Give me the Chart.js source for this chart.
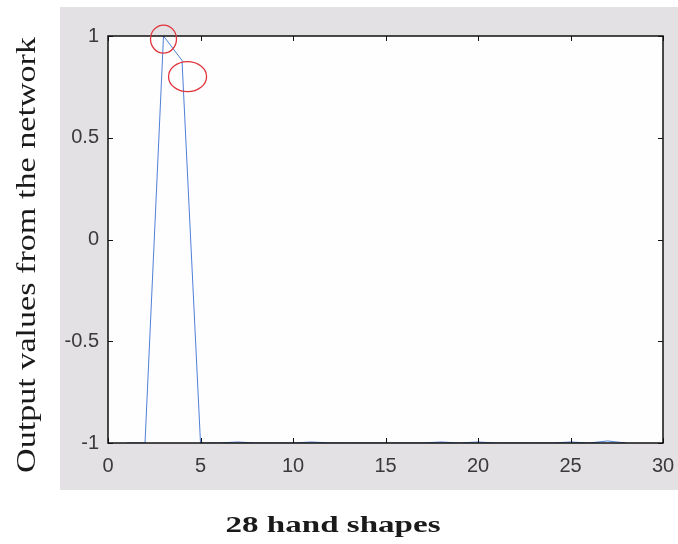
<!DOCTYPE html>
<html>
<head>
<meta charset="utf-8">
<script src="https://cdn.jsdelivr.net/npm/chart.js@4.4.1/dist/chart.umd.min.js"></script>
<style>
  html, body { margin: 0; padding: 0; background: #fff; }
  #wrap { width: 678px; height: 544px; }
</style>
</head>
<body>
<div id="wrap"><canvas id="myChart" width="678" height="544"></canvas></div>
<script>
const shapes = [1,2,3,4,5,6,7,8,9,10,11,12,13,14,15,16,17,18,19,20,21,22,23,24,25,26,27,28]
const outputs = [-1,-1,1,0.88,-1,-1,-0.995,-1,-1,-1,-0.995,-1,-1,-1,-1,-1,-1,-0.995,-1,-0.995,-1,-1,-1,-1,-0.995,-1,-0.99,-1]
const xTicks = [0,5,10,15,20,25,30]
const yTicks = [-1,-0.5,0,0.5,1]
const xTitle = '28 hand shapes'
const yTitle = 'Output values from the network'
// red rings drawn on the scan, in data units
const markX = [3, 4.3]
const markY = [0.985, 0.8]

const ctx = document.getElementById('myChart');

// scanned labels are stretched along the text, so fit them to a width
function stretchedText(c, text, font, cx, cy, width, angle) {
	c.save();
	c.font = font;
	c.textAlign = 'center';
	c.textBaseline = 'middle';
	c.fillStyle = '#1a1a1a';
	c.translate(cx, cy);
	c.rotate(angle);
	c.scale(width / c.measureText(text).width, 1);
	c.fillText(text, 0, 0);
	c.restore();
}

const frame = {
	id: 'frame',
	beforeDraw(chart) {
		const c = chart.ctx, a = chart.chartArea;
		c.save();
		c.fillStyle = '#fff';
		c.fillRect(0, 0, chart.width, chart.height);
		c.fillStyle = '#e3e1e3';
		c.fillRect(60, 7, 618, 483);
		c.fillStyle = '#fefefe';
		c.fillRect(a.left, a.top, a.right - a.left, a.bottom - a.top);
		c.restore();
	},
	afterDraw(chart) {
		const c = chart.ctx, a = chart.chartArea;
		const xs = chart.scales.x, ys = chart.scales.y;
		c.save();
		c.strokeStyle = '#111';
		c.lineWidth = 1;
		c.beginPath();
		xTicks.forEach(v => {
			const px = Math.round(xs.getPixelForValue(v)) + 0.5;
			c.moveTo(px, a.bottom); c.lineTo(px, a.bottom - 5);
			c.moveTo(px, a.top); c.lineTo(px, a.top + 5);
		});
		yTicks.forEach(v => {
			const py = Math.round(ys.getPixelForValue(v)) + 0.5;
			c.moveTo(a.left, py); c.lineTo(a.left + 5, py);
			c.moveTo(a.right, py); c.lineTo(a.right - 5, py);
		});
		c.stroke();
		c.lineWidth = 1.5;
		c.strokeRect(a.left, a.top, a.right - a.left, a.bottom - a.top);
		// red rings
		c.strokeStyle = '#e0333a';
		c.lineWidth = 1.3;
		const rx = [13, 19], ry = [14, 15];
		markX.forEach((v, i) => {
			c.beginPath();
			c.ellipse(xs.getPixelForValue(v), ys.getPixelForValue(markY[i]), rx[i], ry[i], 0, 0, Math.PI * 2);
			c.stroke();
		});
		c.restore();
		stretchedText(c, yTitle, '27px "Liberation Serif"', 28, 255, 436, -Math.PI / 2);
		stretchedText(c, xTitle, 'bold 23px "Liberation Serif"', 333, 526, 215, 0);
	}
};

const data = {
	datasets: [
		{
			data: shapes.map((s, i) => ({x: s, y: outputs[i]})),
			borderColor: '#4f7fd8',
			borderWidth: 1,
			pointRadius: 0,
			tension: 0,
			fill: false
		}
	]
};

const tickFont = {family: 'Liberation Sans', size: 20};

const options = {
	responsive: false,
	animation: false,
	layout: {
		padding: {left: 0, right: 15, top: 36, bottom: 0}
	},
	plugins: {
		legend: {display: false},
		tooltip: {enabled: false}
	},
	scales: {
		x: {
			type: 'linear',
			min: 0,
			max: 30,
			afterBuildTicks: s => { s.ticks = xTicks.map(v => ({value: v})) },
			afterFit: s => { s.height = 101; s.paddingLeft = 0; s.paddingRight = 0 },
			grid: {display: false, drawTicks: false},
			border: {display: false},
			ticks: {
				color: '#3a3a3a',
				padding: 11,
				maxRotation: 0,
				font: tickFont,
				callback: v => String(v)
			}
		},
		y: {
			min: -1,
			max: 1,
			afterBuildTicks: s => { s.ticks = yTicks.map(v => ({value: v})) },
			afterFit: s => { s.width = 108; s.paddingTop = 0; s.paddingBottom = 0 },
			grid: {display: false, drawTicks: false},
			border: {display: false},
			ticks: {
				color: '#3a3a3a',
				padding: 9,
				font: tickFont,
				callback: v => String(v)
			}
		}
	}
};

const myChart = new Chart(ctx, {
	type: 'line',
	data,
	options,
	plugins: [frame]
});
</script>
</body>
</html>
